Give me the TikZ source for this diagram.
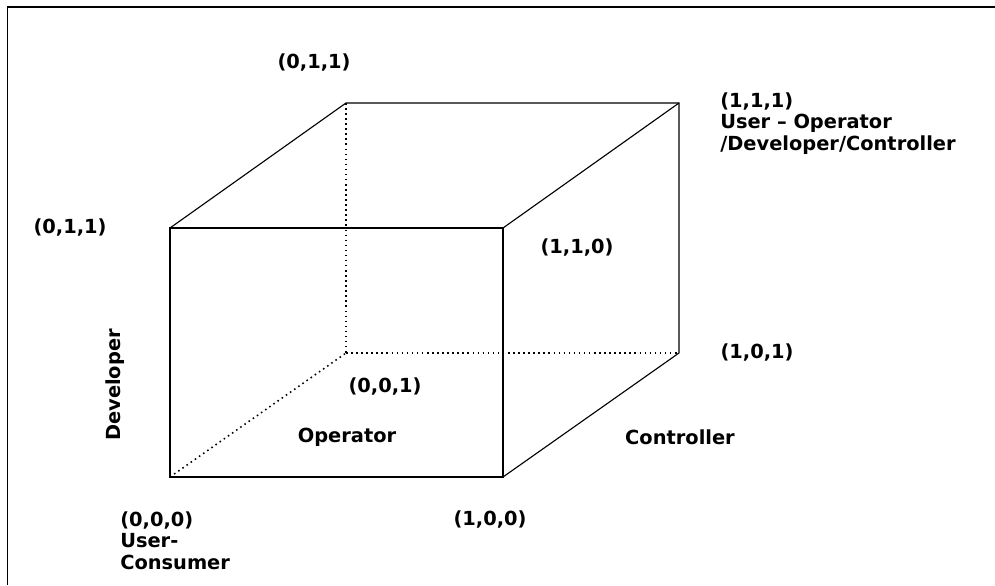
\documentclass[tikz,border=0pt]{standalone}
\usepackage{fontspec}
\setmainfont{DejaVu Sans}
\usetikzlibrary{positioning}

\begin{document}
\begin{tikzpicture}[x=2.5cm, y=2.5cm,
  every node/.style={font=\fontsize{13.8}{15.6}\selectfont\bfseries, inner sep=0pt},
  edge/.style={line width=0.8pt},
  hidden/.style={line width=1.1pt, dash pattern=on 1.1pt off 2.5pt}]

\useasboundingbox (0,0) rectangle (9.95,5.85);

% Frame
\draw[line width=1.4pt] (0.075,0) -- (0.075,5.78) -- (9.95,5.78);

% Cube corners
\coordinate (c000) at (1.70,1.08);
\coordinate (c100) at (5.03,1.08);
\coordinate (c110) at (5.03,3.57);
\coordinate (c010) at (1.70,3.57);
\coordinate (c001) at (3.46,2.32);
\coordinate (c101) at (6.79,2.32);
\coordinate (c111) at (6.79,4.82);
\coordinate (c011) at (3.46,4.82);

% Visible edges
\draw[edge] (c000) rectangle (c110);
\draw[edge] (c010) -- (c011) -- (c111) -- (c101) -- (c100);
\draw[edge] (c110) -- (c111);

% Hidden edges
\draw[hidden] (c011) -- (c001);
\draw[hidden] (c001) -- (c101);
\draw[hidden] (c000) -- (c001);

% Corner labels
\node (l011top) at (3.14,5.22) {(0,1,1)};
\node (l011left) at (0.70,3.57) {(0,1,1)};
\node[anchor=north west, align=left] (l111) at (7.20,4.93)
  {(1,1,1)\\User -- Operator\\/Developer/Controller};
\node (l110) at (5.77,3.37) {(1,1,0)};
\node (l101) at (7.57,2.32) {(1,0,1)};
\node (l001) at (3.85,1.98) {(0,0,1)};
\node (l100) at (4.90,0.65) {(1,0,0)};
\node[anchor=north west, align=left] (l000) at (1.20,0.74)
  {(0,0,0)\\User-\\Consumer};

% Axis roles
\node (operator) at (3.47,1.48) {Operator};
\node (controller) at (6.80,1.48) {Controller};
\node[rotate=90] (developer) at (1.15,2.00) {Developer};

\end{tikzpicture}
\end{document}
